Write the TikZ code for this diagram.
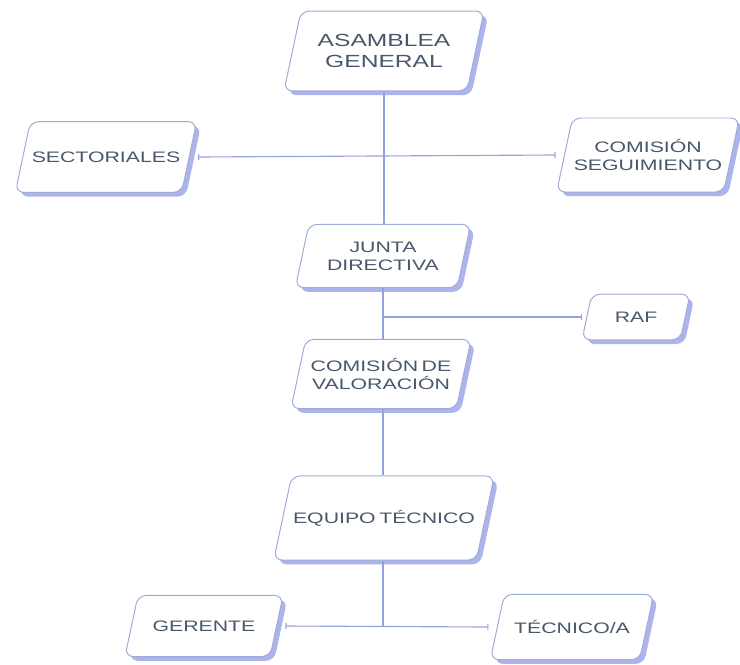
\documentclass[tikz,border=0pt]{standalone}
\usepackage{fontspec}
\setmainfont{Liberation Sans}[FakeStretch=1.4, WordSpace=0.6]
\usepackage{tikz}
\usetikzlibrary{positioning,arrows.meta,shapes.geometric,shadows}
\definecolor{boxcol}{RGB}{160,172,215}
\definecolor{shadcol}{RGB}{172,180,236}
\definecolor{linkcol}{RGB}{150,160,222}
\definecolor{txtcol}{RGB}{72,88,106}

\begin{document}
\begin{tikzpicture}[x=0.025cm, y=-0.025cm,
  org/.style 2 args={trapezium, trapezium left angle=78, trapezium right angle=102,
              trapezium stretches body, draw=boxcol, fill=white, line width=0.7pt,
              rounded corners=6pt, text=txtcol, font=\fontsize{10.8}{13}\selectfont, align=center,
              minimum width=#1, inner xsep=1pt, inner ysep=#2,
              drop shadow={shadow xshift=3pt, shadow yshift=-3pt, fill=shadcol, opacity=1}},
  link/.style={draw=linkcol, line width=0.8pt},
  tick/.style={link, {Bar[width=4pt,line width=0.8pt]}-{Bar[width=4pt,line width=0.8pt]}},
]
\useasboundingbox (0,0) rectangle (740,664);

\node[org={5.0cm}{0.58cm}, font=\fontsize{12.5}{15}\selectfont] (asam) at (384,51) {ASAMBLEA\\GENERAL};
\node[org={4.28cm}{0.75cm}] (sect)   at (106,157) {SECTORIALES};
\node[org={4.35cm}{0.53cm}] (comseg) at (648,155) {COMISIÓN\\SEGUIMIENTO};
\node[org={4.38cm}{0.43cm}] (junta)  at (383,256) {JUNTA\\DIRECTIVA};
\node[org={2.7cm}{0.44cm}]  (raf)    at (636,317) {RAF};
\node[org={4.5cm}{0.47cm}]  (comval) at (381,374) {COMISIÓN DE\\VALORACIÓN};
\node[org={5.2cm}{0.85cm}]  (equipo) at (384,518) {EQUIPO TÉCNICO};
\node[org={3.95cm}{0.63cm}] (ger)    at (204,626) {GERENTE};
\node[org={4.08cm}{0.65cm}] (tec)    at (572,627) {TÉCNICO/A};

% vertical spine
\draw[link] (asam.south) -- (asam.south |- junta.north);
\draw[link] (junta.south) -- (junta.south |- comval.north);
\draw[link] (junta.south |- comval.south) -- (junta.south |- equipo.north);
\draw[link] (junta.south |- equipo.south) -- (junta.south |- ger.east);

% side branches
\draw[tick] ([xshift=6pt]sect.east) -- ([xshift=-6pt]comseg.west);
\draw[link, -{Bar[width=4pt,line width=0.8pt]}] (junta.south |- raf.west) -- ([xshift=-3pt]raf.west);
\draw[tick] ([xshift=6pt]ger.east) -- ([xshift=-6pt]tec.west);
\end{tikzpicture}
\end{document}
